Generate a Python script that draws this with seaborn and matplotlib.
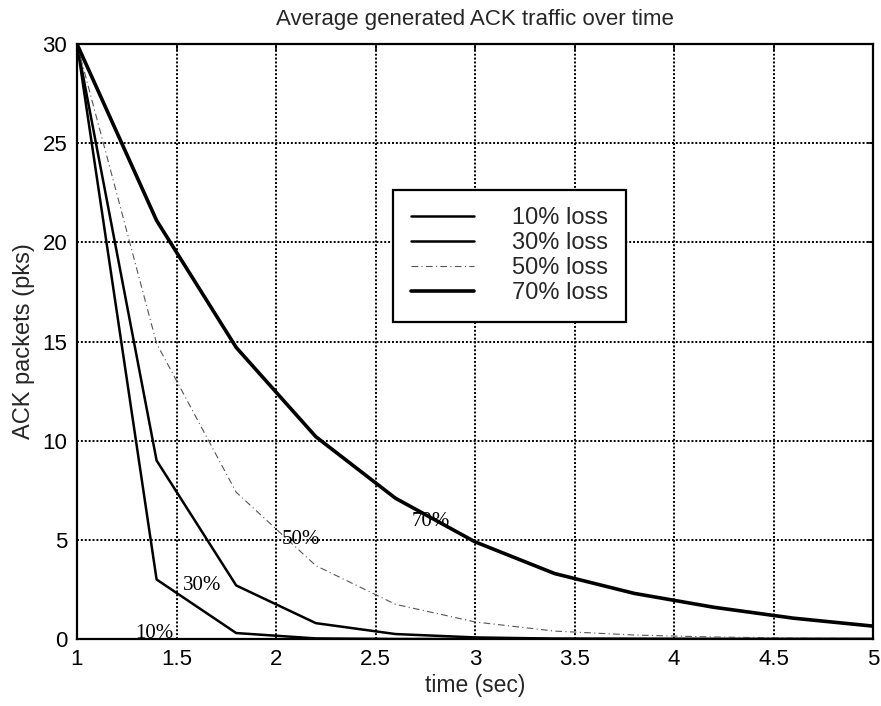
import matplotlib
matplotlib.use("Agg")
import matplotlib.pyplot as plt
import seaborn as sns
import pandas as pd
from matplotlib.lines import Line2D

# ---- data ----
time_sec = [1.0, 1.4, 1.8, 2.2, 2.6, 3.0, 3.4, 3.8, 4.2, 4.6, 5.0]
loss10 = [30, 3.0, 0.3, 0.03, 0.0, 0.0, 0.0, 0.0, 0.0, 0.0, 0.0]
loss30 = [30, 9.0, 2.7, 0.8, 0.25, 0.08, 0.02, 0.01, 0.0, 0.0, 0.0]
loss50 = [30, 14.9, 7.4, 3.7, 1.75, 0.86, 0.4, 0.2, 0.1, 0.05, 0.02]
loss70 = [30, 21.1, 14.7, 10.2, 7.1, 4.9, 3.3, 2.3, 1.6, 1.05, 0.65]
series_names = ["10% loss", "30% loss", "50% loss", "70% loss"]
curve_labels = ["10%", "30%", "50%", "70%"]
label_pos_t = [1.29, 1.53, 2.03, 2.68]
label_pos_v = [0.3, 2.7, 5.0, 5.9]
x_ticks = [1, 1.5, 2, 2.5, 3, 3.5, 4, 4.5, 5]
x_tick_labels = ["1", "1.5", "2", "2.5", "3", "3.5", "4", "4.5", "5"]
y_ticks = [0, 5, 10, 15, 20, 25, 30]

sns.set_style("white")
plt.rcParams["font.family"] = ["Liberation Sans", "DejaVu Sans"]

df = pd.DataFrame({
    "time": time_sec * 4,
    "value": loss10 + loss30 + loss50 + loss70,
    "series": sum([[n] * len(time_sec) for n in series_names], []),
})

fig = plt.figure(figsize=(8.81, 7.06), dpi=100)
ax = fig.add_axes([77 / 881, 1 - 639 / 706, 796 / 881, 595 / 706])

styles = {
    "10% loss": dict(color="black", lw=1.8, ls="-"),
    "30% loss": dict(color="black", lw=1.8, ls="-"),
    "50% loss": dict(color="#555555", lw=0.8, ls=(0, (6, 3, 1, 3))),
    "70% loss": dict(color="black", lw=2.6, ls="-"),
}

handles = []
for name in series_names:
    sub = df[df["series"] == name]
    st = styles[name]
    sns.lineplot(data=sub, x="time", y="value", ax=ax, color=st["color"],
                 linewidth=st["lw"], linestyle=st["ls"], legend=False)
    handles.append(Line2D([], [], color=st["color"], lw=st["lw"], ls=st["ls"]))

for lab, t, v in zip(curve_labels, label_pos_t, label_pos_v):
    ax.text(t, v, lab, fontsize=15, family=["Liberation Serif", "DejaVu Serif"],
            ha="left", va="center", color="black")

ax.set_xlim(1, 5)
ax.set_ylim(0, 30)
ax.set_xticks(x_ticks)
ax.set_xticklabels(x_tick_labels)
ax.set_yticks(y_ticks)
ax.tick_params(direction="in", length=4, width=1.2, labelsize=16, colors="black",
               top=True, right=True, pad=7)
ax.grid(True, color="black", linestyle=(0, (1, 1)), linewidth=1.4)
for s in ax.spines.values():
    s.set_linewidth(1.6)
    s.set_color("black")

ax.set_xlabel("time (sec)", fontsize=16.5, labelpad=3)
ax.set_ylabel("ACK packets (pks)", fontsize=17, labelpad=5)
ax.set_title("Average generated ACK traffic over time", fontsize=16, pad=14)

leg = ax.legend(handles, series_names, loc="upper left",
                bbox_to_anchor=(0.397, 0.755), borderaxespad=0,
                fontsize=17, handlelength=2.7, handletextpad=1.6,
                labelspacing=0.12, borderpad=0.75, frameon=True, fancybox=False,
                framealpha=1)
leg.get_frame().set_edgecolor("black")
leg.get_frame().set_linewidth(1.6)

fig.savefig("out.png", dpi=100)
